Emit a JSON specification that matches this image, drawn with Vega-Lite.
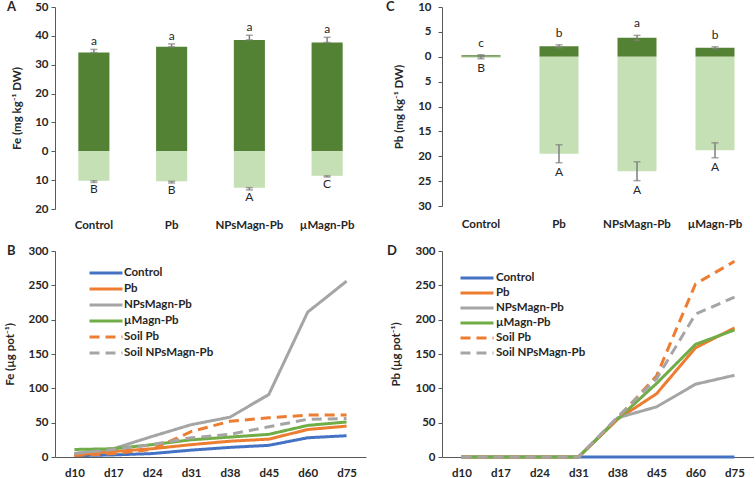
{
  "$schema": "https://vega.github.io/schema/vega-lite/v6.json",
  "background": "white",
  "padding": {"left": 4, "top": 1, "right": 0, "bottom": 0},
  "config": {
    "font": "Lato",
    "view": {"stroke": null},
    "axis": {
      "grid": false, "labelOverlap": false,
      "labelFont": "Lato", "labelFontWeight": "bold", "labelFontSize": 11.5, "labelColor": "#262626",
      "titleFont": "Lato", "titleFontWeight": "bold", "titleFontSize": 11.5, "titleColor": "#262626",
      "domainColor": "#595959", "tickColor": "#595959"
    },
    "title": {"font": "Lato", "fontSize": 13, "fontWeight": "bold", "color": "#262626"},
    "legend": {"labelFont": "Lato", "labelFontWeight": "bold", "labelFontSize": 11.5, "labelColor": "#262626", "padding": 0}
  },
  "datasets": {
    "fe_bars": [
      {"cat": "Control", "organ": "shoot", "value": 34.2, "lo": 34.2, "hi": 35.3, "letter": "a"},
      {"cat": "Pb", "organ": "shoot", "value": 36.2, "lo": 36.2, "hi": 37.2, "letter": "a"},
      {"cat": "NPsMagn-Pb", "organ": "shoot", "value": 38.6, "lo": 38.6, "hi": 40.2, "letter": "a"},
      {"cat": "µMagn-Pb", "organ": "shoot", "value": 37.7, "lo": 37.7, "hi": 39.5, "letter": "a"},
      {"cat": "Control", "organ": "root", "value": -10.2, "lo": -10.8, "hi": -10.2, "letter": "B"},
      {"cat": "Pb", "organ": "root", "value": -10.4, "lo": -11.0, "hi": -10.4, "letter": "B"},
      {"cat": "NPsMagn-Pb", "organ": "root", "value": -12.6, "lo": -13.4, "hi": -12.6, "letter": "A"},
      {"cat": "µMagn-Pb", "organ": "root", "value": -8.5, "lo": -8.9, "hi": -8.5, "letter": "C"}
    ],
    "pb_bars": [
      {"cat": "Control", "organ": "shoot", "value": 0.3, "lo": 0.2, "hi": 0.4, "letter": "c"},
      {"cat": "Pb", "organ": "shoot", "value": 2.1, "lo": 1.8, "hi": 2.4, "letter": "b"},
      {"cat": "NPsMagn-Pb", "organ": "shoot", "value": 3.8, "lo": 3.3, "hi": 4.3, "letter": "a"},
      {"cat": "µMagn-Pb", "organ": "shoot", "value": 1.8, "lo": 1.6, "hi": 2.0, "letter": "b"},
      {"cat": "Control", "organ": "root", "value": -0.2, "lo": -0.4, "hi": 0.0, "letter": "B"},
      {"cat": "Pb", "organ": "root", "value": -19.5, "lo": -21.3, "hi": -17.7, "letter": "A"},
      {"cat": "NPsMagn-Pb", "organ": "root", "value": -23.0, "lo": -24.9, "hi": -21.1, "letter": "A"},
      {"cat": "µMagn-Pb", "organ": "root", "value": -18.8, "lo": -20.3, "hi": -17.3, "letter": "A"}
    ],
    "fe_lines": [
      {"day": "d10", "series": "Control", "v": 2}, {"day": "d17", "series": "Control", "v": 3}, {"day": "d24", "series": "Control", "v": 5}, {"day": "d31", "series": "Control", "v": 10}, {"day": "d38", "series": "Control", "v": 14}, {"day": "d45", "series": "Control", "v": 17}, {"day": "d60", "series": "Control", "v": 28}, {"day": "d75", "series": "Control", "v": 31},
      {"day": "d10", "series": "Pb", "v": 3}, {"day": "d17", "series": "Pb", "v": 8}, {"day": "d24", "series": "Pb", "v": 12}, {"day": "d31", "series": "Pb", "v": 18}, {"day": "d38", "series": "Pb", "v": 23}, {"day": "d45", "series": "Pb", "v": 26}, {"day": "d60", "series": "Pb", "v": 40}, {"day": "d75", "series": "Pb", "v": 45},
      {"day": "d10", "series": "NPsMagn-Pb", "v": 5}, {"day": "d17", "series": "NPsMagn-Pb", "v": 12}, {"day": "d24", "series": "NPsMagn-Pb", "v": 30}, {"day": "d31", "series": "NPsMagn-Pb", "v": 47}, {"day": "d38", "series": "NPsMagn-Pb", "v": 58}, {"day": "d45", "series": "NPsMagn-Pb", "v": 91}, {"day": "d60", "series": "NPsMagn-Pb", "v": 211}, {"day": "d75", "series": "NPsMagn-Pb", "v": 256},
      {"day": "d10", "series": "µMagn-Pb", "v": 11}, {"day": "d17", "series": "µMagn-Pb", "v": 12}, {"day": "d24", "series": "µMagn-Pb", "v": 18}, {"day": "d31", "series": "µMagn-Pb", "v": 25}, {"day": "d38", "series": "µMagn-Pb", "v": 29}, {"day": "d45", "series": "µMagn-Pb", "v": 33}, {"day": "d60", "series": "µMagn-Pb", "v": 46}, {"day": "d75", "series": "µMagn-Pb", "v": 51},
      {"day": "d10", "series": "Soil Pb", "v": 2}, {"day": "d17", "series": "Soil Pb", "v": 5}, {"day": "d24", "series": "Soil Pb", "v": 11}, {"day": "d31", "series": "Soil Pb", "v": 37}, {"day": "d38", "series": "Soil Pb", "v": 52}, {"day": "d45", "series": "Soil Pb", "v": 57}, {"day": "d60", "series": "Soil Pb", "v": 61}, {"day": "d75", "series": "Soil Pb", "v": 61},
      {"day": "d10", "series": "Soil NPsMagn-Pb", "v": 5}, {"day": "d17", "series": "Soil NPsMagn-Pb", "v": 11}, {"day": "d24", "series": "Soil NPsMagn-Pb", "v": 18}, {"day": "d31", "series": "Soil NPsMagn-Pb", "v": 28}, {"day": "d38", "series": "Soil NPsMagn-Pb", "v": 33}, {"day": "d45", "series": "Soil NPsMagn-Pb", "v": 44}, {"day": "d60", "series": "Soil NPsMagn-Pb", "v": 55}, {"day": "d75", "series": "Soil NPsMagn-Pb", "v": 56}
    ],
    "pb_lines": [
      {"day": "d10", "series": "Control", "v": 0}, {"day": "d17", "series": "Control", "v": 0}, {"day": "d24", "series": "Control", "v": 0}, {"day": "d31", "series": "Control", "v": 0}, {"day": "d38", "series": "Control", "v": 0}, {"day": "d45", "series": "Control", "v": 0}, {"day": "d60", "series": "Control", "v": 0}, {"day": "d75", "series": "Control", "v": 0},
      {"day": "d10", "series": "Pb", "v": 0}, {"day": "d17", "series": "Pb", "v": 0}, {"day": "d24", "series": "Pb", "v": 0}, {"day": "d31", "series": "Pb", "v": 0}, {"day": "d38", "series": "Pb", "v": 55}, {"day": "d45", "series": "Pb", "v": 92}, {"day": "d60", "series": "Pb", "v": 159}, {"day": "d75", "series": "Pb", "v": 188},
      {"day": "d10", "series": "NPsMagn-Pb", "v": 0}, {"day": "d17", "series": "NPsMagn-Pb", "v": 0}, {"day": "d24", "series": "NPsMagn-Pb", "v": 0}, {"day": "d31", "series": "NPsMagn-Pb", "v": 0}, {"day": "d38", "series": "NPsMagn-Pb", "v": 57}, {"day": "d45", "series": "NPsMagn-Pb", "v": 73}, {"day": "d60", "series": "NPsMagn-Pb", "v": 106}, {"day": "d75", "series": "NPsMagn-Pb", "v": 119},
      {"day": "d10", "series": "µMagn-Pb", "v": 0}, {"day": "d17", "series": "µMagn-Pb", "v": 0}, {"day": "d24", "series": "µMagn-Pb", "v": 0}, {"day": "d31", "series": "µMagn-Pb", "v": 0}, {"day": "d38", "series": "µMagn-Pb", "v": 55}, {"day": "d45", "series": "µMagn-Pb", "v": 107}, {"day": "d60", "series": "µMagn-Pb", "v": 164}, {"day": "d75", "series": "µMagn-Pb", "v": 185},
      {"day": "d10", "series": "Soil Pb", "v": 0}, {"day": "d17", "series": "Soil Pb", "v": 0}, {"day": "d24", "series": "Soil Pb", "v": 0}, {"day": "d31", "series": "Soil Pb", "v": 0}, {"day": "d38", "series": "Soil Pb", "v": 56}, {"day": "d45", "series": "Soil Pb", "v": 118}, {"day": "d60", "series": "Soil Pb", "v": 252}, {"day": "d75", "series": "Soil Pb", "v": 285},
      {"day": "d10", "series": "Soil NPsMagn-Pb", "v": 0}, {"day": "d17", "series": "Soil NPsMagn-Pb", "v": 0}, {"day": "d24", "series": "Soil NPsMagn-Pb", "v": 0}, {"day": "d31", "series": "Soil NPsMagn-Pb", "v": 0}, {"day": "d38", "series": "Soil NPsMagn-Pb", "v": 58}, {"day": "d45", "series": "Soil NPsMagn-Pb", "v": 114}, {"day": "d60", "series": "Soil NPsMagn-Pb", "v": 208}, {"day": "d75", "series": "Soil NPsMagn-Pb", "v": 233}
    ]
  },
  "columns": 2,
  "bounds": "flush",
  "spacing": {"row": 42, "column": 76},
  "resolve": {"scale": {"color": "independent", "strokeDash": "independent", "x": "independent", "y": "independent"}, "legend": {"color": "independent", "strokeDash": "independent"}},
  "concat": [
    {
      "width": 311, "height": 202,
      "title": {"text": "A", "anchor": "start", "frame": "group", "dx": -48, "offset": -13},
      "data": {"name": "fe_bars"},
      "encoding": {
        "x": {"field": "cat", "type": "nominal", "sort": ["Control", "Pb", "NPsMagn-Pb", "µMagn-Pb"], "title": null,
              "scale": {"paddingInner": 0.6, "paddingOuter": 0.3},
              "axis": {"domain": false, "ticks": false, "labelPadding": 10, "labelAngle": 0}}
      },
      "layer": [
        {
          "mark": {"type": "bar"},
          "encoding": {
            "y": {"field": "value", "type": "quantitative", "stack": null, "title": "Fe (mg kg⁻¹ DW)",
                  "scale": {"domain": [-20, 50]},
                  "axis": {"values": [-20, -10, 0, 10, 20, 30, 40, 50], "labelExpr": "abs(datum.value)", "labelOverlap": false, "tickSize": 4, "labelPadding": 3, "titlePadding": 12}},
            "color": {"field": "organ", "type": "nominal", "scale": {"domain": ["shoot", "root"], "range": ["#548235", "#c5e0b4"]}, "legend": null}
          }
        },
        {
          "mark": {"type": "errorbar", "ticks": true, "size": 7, "thickness": 1.5, "color": "#7f7f7f"},
          "encoding": {
            "y": {"field": "lo", "type": "quantitative", "title": "Fe (mg kg⁻¹ DW)",
                  "axis": {"values": [-20, -10, 0, 10, 20, 30, 40, 50], "labelExpr": "abs(datum.value)", "labelOverlap": false, "tickSize": 4, "labelPadding": 3, "titlePadding": 12}},
            "y2": {"field": "hi"}
          }
        },
        {
          "mark": {"type": "rule", "color": "#262626", "strokeWidth": 1},
          "encoding": {"y": {"datum": 0, "type": "quantitative", "title": "Fe (mg kg⁻¹ DW)",
                  "axis": {"values": [-20, -10, 0, 10, 20, 30, 40, 50], "labelExpr": "abs(datum.value)", "labelOverlap": false, "tickSize": 4, "labelPadding": 3, "titlePadding": 12}}}
        },
        {
          "transform": [{"filter": "datum.organ === 'shoot'"}],
          "mark": {"type": "text", "baseline": "bottom", "dy": -1, "fontSize": 12, "color": "#262626"},
          "encoding": {"y": {"field": "hi", "type": "quantitative", "title": "Fe (mg kg⁻¹ DW)",
                  "axis": {"values": [-20, -10, 0, 10, 20, 30, 40, 50], "labelExpr": "abs(datum.value)", "labelOverlap": false, "tickSize": 4, "labelPadding": 3, "titlePadding": 12}}, "text": {"field": "letter"}}
        },
        {
          "transform": [{"filter": "datum.organ === 'root'"}],
          "mark": {"type": "text", "baseline": "top", "dy": 2, "fontSize": 12, "color": "#262626"},
          "encoding": {"y": {"field": "lo", "type": "quantitative", "title": "Fe (mg kg⁻¹ DW)",
                  "axis": {"values": [-20, -10, 0, 10, 20, 30, 40, 50], "labelExpr": "abs(datum.value)", "labelOverlap": false, "tickSize": 4, "labelPadding": 3, "titlePadding": 12}}, "text": {"field": "letter"}}
        }
      ]
    },
    {
      "width": 312, "height": 199,
      "title": {"text": "C", "anchor": "start", "frame": "group", "dx": -56, "offset": -13},
      "data": {"name": "pb_bars"},
      "encoding": {
        "x": {"field": "cat", "type": "nominal", "sort": ["Control", "Pb", "NPsMagn-Pb", "µMagn-Pb"], "title": null,
              "scale": {"paddingInner": 0.5, "paddingOuter": 0.25},
              "axis": {"domain": false, "ticks": false, "labelPadding": 12, "labelAngle": 0}}
      },
      "layer": [
        {
          "mark": {"type": "bar"},
          "encoding": {
            "y": {"field": "value", "type": "quantitative", "stack": null, "title": "Pb (mg kg⁻¹ DW)",
                  "scale": {"domain": [-30, 10]},
                  "axis": {"values": [-30, -25, -20, -15, -10, -5, 0, 5, 10], "labelExpr": "abs(datum.value)", "labelOverlap": false, "tickSize": 4, "labelPadding": 7, "titlePadding": 13}},
            "color": {"field": "organ", "type": "nominal", "scale": {"domain": ["shoot", "root"], "range": ["#548235", "#c5e0b4"]}, "legend": null}
          }
        },
        {
          "mark": {"type": "errorbar", "ticks": true, "size": 7, "thickness": 1.5, "color": "#7f7f7f"},
          "encoding": {
            "y": {"field": "lo", "type": "quantitative", "title": "Pb (mg kg⁻¹ DW)",
                  "axis": {"values": [-30, -25, -20, -15, -10, -5, 0, 5, 10], "labelExpr": "abs(datum.value)", "labelOverlap": false, "tickSize": 4, "labelPadding": 7, "titlePadding": 13}},
            "y2": {"field": "hi"}
          }
        },
        {
          "mark": {"type": "rule", "color": "#262626", "strokeWidth": 1},
          "encoding": {"y": {"datum": 0, "type": "quantitative", "title": "Pb (mg kg⁻¹ DW)",
                  "axis": {"values": [-30, -25, -20, -15, -10, -5, 0, 5, 10], "labelExpr": "abs(datum.value)", "labelOverlap": false, "tickSize": 4, "labelPadding": 7, "titlePadding": 13}}}
        },
        {
          "transform": [{"filter": "datum.organ === 'shoot'"}],
          "mark": {"type": "text", "baseline": "bottom", "dy": -5, "fontSize": 12, "color": "#262626"},
          "encoding": {"y": {"field": "hi", "type": "quantitative", "title": "Pb (mg kg⁻¹ DW)",
                  "axis": {"values": [-30, -25, -20, -15, -10, -5, 0, 5, 10], "labelExpr": "abs(datum.value)", "labelOverlap": false, "tickSize": 4, "labelPadding": 7, "titlePadding": 13}}, "text": {"field": "letter"}}
        },
        {
          "transform": [{"filter": "datum.organ === 'root'"}],
          "mark": {"type": "text", "baseline": "top", "dy": 4, "fontSize": 12, "color": "#262626"},
          "encoding": {"y": {"field": "lo", "type": "quantitative", "title": "Pb (mg kg⁻¹ DW)",
                  "axis": {"values": [-30, -25, -20, -15, -10, -5, 0, 5, 10], "labelExpr": "abs(datum.value)", "labelOverlap": false, "tickSize": 4, "labelPadding": 7, "titlePadding": 13}}, "text": {"field": "letter"}}
        }
      ]
    },
    {
      "width": 311, "height": 206,
      "title": {"text": "B", "anchor": "start", "frame": "group", "dx": -48, "offset": -13},
      "data": {"name": "fe_lines"},
      "mark": {"type": "line", "strokeWidth": 3},
      "encoding": {
        "x": {"field": "day", "type": "ordinal", "title": null, "scale": {"padding": 0.5},
              "axis": {"domain": true, "ticks": false, "labelPadding": 10, "labelAngle": 0}},
        "y": {"field": "v", "type": "quantitative", "title": "Fe (µg pot⁻¹)",
              "scale": {"domain": [0, 300]},
              "axis": {"values": [0, 50, 100, 150, 200, 250, 300], "labelOverlap": false, "tickSize": 4, "labelPadding": 3, "titlePadding": 12}},
        "color": {"field": "series", "type": "nominal", "title": null,
                  "scale": {"domain": ["Control", "Pb", "NPsMagn-Pb", "µMagn-Pb", "Soil Pb", "Soil NPsMagn-Pb"],
                            "range": ["#4472c4", "#ed7d31", "#a5a5a5", "#70ad47", "#ed7d31", "#a5a5a5"]},
                  "legend": {"orient": "none", "legendX": 44, "legendY": 15, "symbolType": "M-3,0H3", "symbolSize": 121, "symbolStrokeWidth": 3, "labelOffset": 11, "rowPadding": 3}},
        "strokeDash": {"field": "series", "type": "nominal", "title": null,
                  "scale": {"domain": ["Control", "Pb", "NPsMagn-Pb", "µMagn-Pb", "Soil Pb", "Soil NPsMagn-Pb"],
                            "range": [[1, 0], [1, 0], [1, 0], [1, 0], [10, 6], [10, 6]]}}
      }
    },
    {
      "width": 312, "height": 206,
      "title": {"text": "D", "anchor": "start", "frame": "group", "dx": -55, "offset": -13},
      "data": {"name": "pb_lines"},
      "mark": {"type": "line", "strokeWidth": 3},
      "encoding": {
        "x": {"field": "day", "type": "ordinal", "title": null, "scale": {"padding": 0.5},
              "axis": {"domain": true, "ticks": false, "labelPadding": 10, "labelAngle": 0}},
        "y": {"field": "v", "type": "quantitative", "title": "Pb (µg pot⁻¹)",
              "scale": {"domain": [0, 300]},
              "axis": {"values": [0, 50, 100, 150, 200, 250, 300], "labelOverlap": false, "tickSize": 4, "labelPadding": 3, "titlePadding": 13}},
        "color": {"field": "series", "type": "nominal", "title": null,
                  "scale": {"domain": ["Control", "Pb", "NPsMagn-Pb", "µMagn-Pb", "Soil Pb", "Soil NPsMagn-Pb"],
                            "range": ["#4472c4", "#ed7d31", "#a5a5a5", "#70ad47", "#ed7d31", "#a5a5a5"]},
                  "legend": {"orient": "none", "legendX": 28, "legendY": 20, "symbolType": "M-3,0H3", "symbolSize": 121, "symbolStrokeWidth": 3, "labelOffset": 12, "rowPadding": 2}},
        "strokeDash": {"field": "series", "type": "nominal", "title": null,
                  "scale": {"domain": ["Control", "Pb", "NPsMagn-Pb", "µMagn-Pb", "Soil Pb", "Soil NPsMagn-Pb"],
                            "range": [[1, 0], [1, 0], [1, 0], [1, 0], [10, 6], [10, 6]]}}
      }
    }
  ]
}
